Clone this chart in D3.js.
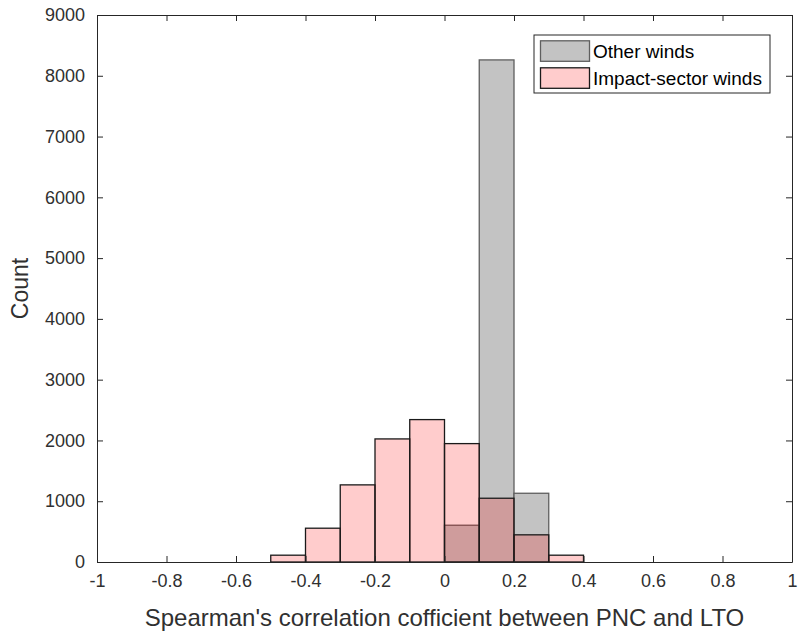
<!DOCTYPE html>
<html>
<head>
<meta charset="utf-8">
<script src="https://cdn.jsdelivr.net/npm/d3@7"></script>
<style>
  body { margin: 0; background: #fff; }
  text { font-family: "Liberation Sans", Arial, sans-serif; }
</style>
</head>
<body>
<div id="chart"></div>
<script>
// bin left edges (width 0.1) and counts
var binWidth = 0.1;
var otherBins = [0.0, 0.1, 0.2];
var otherCounts = [605, 8261, 1131];
var impactBins = [-0.5, -0.4, -0.3, -0.2, -0.1, 0.0, 0.1, 0.2, 0.3];
var impactCounts = [112, 556, 1269, 2025, 2343, 1948, 1049, 447, 112];
var xTicks = [-1, -0.8, -0.6, -0.4, -0.2, 0, 0.2, 0.4, 0.6, 0.8, 1];
var yTicks = [0, 1000, 2000, 3000, 4000, 5000, 6000, 7000, 8000, 9000];
var seriesNames = ["Other winds", "Impact-sector winds"];

var W = 799, H = 636;
var margin = {top: 15, right: 7, bottom: 74, left: 97},
    width = W - margin.left - margin.right,
    height = H - margin.top - margin.bottom;

var svg = d3.select("#chart")
  .append("svg")
    .attr("width", W)
    .attr("height", H)
  .append("g")
    .attr("transform", "translate(" + margin.left + "," + margin.top + ")");

var x = d3.scaleLinear().domain([-1, 1]).range([0, width]);
var y = d3.scaleLinear().domain([0, 9000]).range([height, 0]);

var other = otherBins.map(function(b, i) { return {x0: b, n: otherCounts[i]}; });
var impact = impactBins.map(function(b, i) { return {x0: b, n: impactCounts[i]}; });

// gray histogram
svg.append("g").selectAll("rect")
  .data(other)
  .enter().append("rect")
    .attr("x", function(d) { return x(d.x0); })
    .attr("y", function(d) { return y(d.n); })
    .attr("width", function(d) { return x(d.x0 + binWidth) - x(d.x0); })
    .attr("height", function(d) { return y(0) - y(d.n); })
    .style("fill", "#c3c3c3")
    .style("stroke", "#5f5f5f")
    .style("stroke-width", 1.3);

// pink histogram, translucent red over the gray
svg.append("g").selectAll("rect")
  .data(impact)
  .enter().append("rect")
    .attr("x", function(d) { return x(d.x0); })
    .attr("y", function(d) { return y(d.n); })
    .attr("width", function(d) { return x(d.x0 + binWidth) - x(d.x0); })
    .attr("height", function(d) { return y(0) - y(d.n); })
    .style("fill", "red")
    .style("fill-opacity", 0.2)
    .style("stroke", "#1a1a1a")
    .style("stroke-width", 1.3);

// axes with inward ticks, box on
function styleAxis(g) {
  g.selectAll("path").style("stroke", "#262626").style("stroke-width", 1);
  g.selectAll("line").style("stroke", "#262626");
  g.selectAll("text").style("font-size", "18px").style("fill", "#303030")
    .style("font-family", "'Liberation Sans', Arial, sans-serif");
}
var plain = function(d) { return String(d); };

svg.append("g")
  .attr("transform", "translate(0," + height + ")")
  .call(d3.axisBottom(x).tickValues(xTicks).tickFormat(plain).tickSizeInner(-6).tickSizeOuter(0).tickPadding(12))
  .call(styleAxis);

svg.append("g")
  .call(d3.axisTop(x).tickValues(xTicks).tickFormat("").tickSizeInner(-6).tickSizeOuter(0))
  .call(styleAxis);

svg.append("g")
  .call(d3.axisLeft(y).tickValues(yTicks).tickFormat(plain).tickSizeInner(-6).tickSizeOuter(0).tickPadding(12))
  .call(styleAxis);

svg.append("g")
  .attr("transform", "translate(" + width + ",0)")
  .call(d3.axisRight(y).tickValues(yTicks).tickFormat("").tickSizeInner(-6).tickSizeOuter(0))
  .call(styleAxis);

// axis labels
svg.append("text")
  .attr("x", width / 2)
  .attr("y", height + 64)
  .attr("text-anchor", "middle")
  .style("font-size", "24px")
  .style("fill", "#303030")
  .text("Spearman's correlation cofficient between PNC and LTO");

svg.append("text")
  .attr("transform", "rotate(-90)")
  .attr("x", -height / 2)
  .attr("y", -69)
  .attr("text-anchor", "middle")
  .style("font-size", "23px")
  .style("fill", "#303030")
  .text("Count");

// legend
var legend = svg.append("g")
  .attr("transform", "translate(" + (width - 258) + ",20)");

legend.append("rect")
  .attr("width", 236)
  .attr("height", 58)
  .style("fill", "#fff")
  .style("stroke", "#262626")
  .style("stroke-width", 1);

var swatchFill = ["#c3c3c3", "#ffcccc"];
var swatchStroke = ["#5f5f5f", "#1a1a1a"];
seriesNames.forEach(function(name, i) {
  legend.append("rect")
    .attr("x", 6.5)
    .attr("y", 5.8 + i * 27)
    .attr("width", 49)
    .attr("height", 20.5)
    .style("fill", swatchFill[i])
    .style("stroke", swatchStroke[i])
    .style("stroke-width", 1.3);
  legend.append("text")
    .attr("x", 59)
    .attr("y", 22.5 + i * 27)
    .style("font-size", "19px")
    .style("fill", "#000")
    .text(name);
});
</script>
</body>
</html>
